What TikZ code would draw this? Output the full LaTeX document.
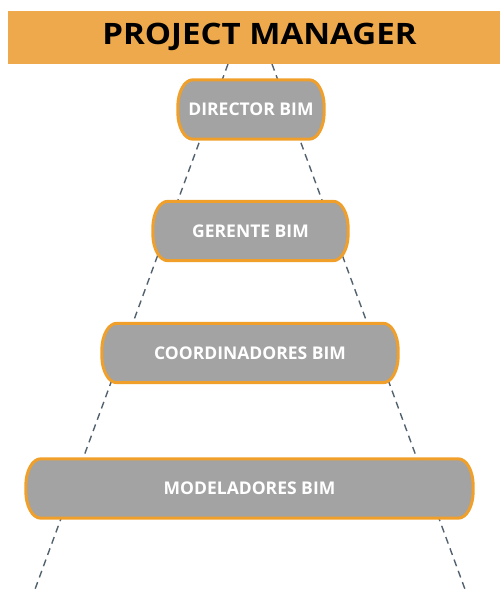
\documentclass[tikz,border=0pt]{standalone}
\usepackage{fontspec}
\setmainfont{Open Sans}
\usetikzlibrary{backgrounds}
\definecolor{banner}{HTML}{EEA94D}
\definecolor{rim}{HTML}{F0A02A}
\definecolor{tier}{HTML}{A3A3A3}
\definecolor{guide}{HTML}{53626F}
\pgfdeclarelayer{guides}
\pgfsetlayers{guides,background,main}
\tikzset{
  level/.style={minimum height=59pt, text=white,
    font=\bfseries\fontsize{17.5}{20}\selectfont, inner sep=0pt},
  tieredge/.style={draw=rim, line width=3pt, fill=tier},
  guideline/.style={draw=guide, line width=1.4pt, dash pattern=on 7pt off 5pt}
}
% outline of a tier: flat top and bottom, elliptic corners
\newcommand\tieroutline[1]{%
  \path[tieredge]
    ([xshift=15pt]#1.north west) -- ([xshift=-15pt]#1.north east)
    arc[start angle=90, end angle=0, x radius=15pt, y radius=27pt]
    -- ([yshift=27pt]#1.south east)
    arc[start angle=0, end angle=-90, x radius=15pt, y radius=27pt]
    -- ([xshift=15pt]#1.south west)
    arc[start angle=270, end angle=180, x radius=15pt, y radius=27pt]
    -- ([yshift=-27pt]#1.north west)
    arc[start angle=180, end angle=90, x radius=15pt, y radius=27pt]
    -- cycle;}
\begin{document}
\begin{tikzpicture}[x=1pt,y=-1pt]
  \useasboundingbox (0,0) rectangle (500,592);
  \begin{pgfonlayer}{guides}
    \fill[white] (0,0) rectangle (500,592);
  \end{pgfonlayer}
  % heading band
  \node[fill=banner, minimum width=492pt, minimum height=53pt, anchor=north west,
        inner sep=0pt] (pm) at (8,11) {};
  \node[font=\bfseries\fontsize{29.5}{32}\selectfont] (pmtext) at (259.5,36.5)
        {\scalebox{1.12}[1]{PROJECT MANAGER}};
  % tiers
  \node[level, minimum width=146pt] (dir) at (251,109.5) {DIRECTOR BIM};
  \node[level, minimum width=195pt] (ger) at (250.5,231) {GERENTE BIM};
  \node[level, minimum width=296pt] (coo) at (250,353) {COORDINADORES BIM};
  \node[level, minimum width=447pt] (mod) at (249.5,488.5) {MODELADORES BIM};
  \begin{pgfonlayer}{background}
    \tieroutline{dir}
    \tieroutline{ger}
    \tieroutline{coo}
    \tieroutline{mod}
  \end{pgfonlayer}
  % dashed outline of the pyramid
  \coordinate (lt) at (228,64);
  \coordinate (rt) at (272,64);
  \coordinate (lb) at (34,592);
  \coordinate (rb) at (466,592);
  \begin{pgfonlayer}{guides}
    \draw[guideline] (lt) -- (lb);
    \draw[guideline] (rt) -- (rb);
  \end{pgfonlayer}
\end{tikzpicture}
\end{document}
